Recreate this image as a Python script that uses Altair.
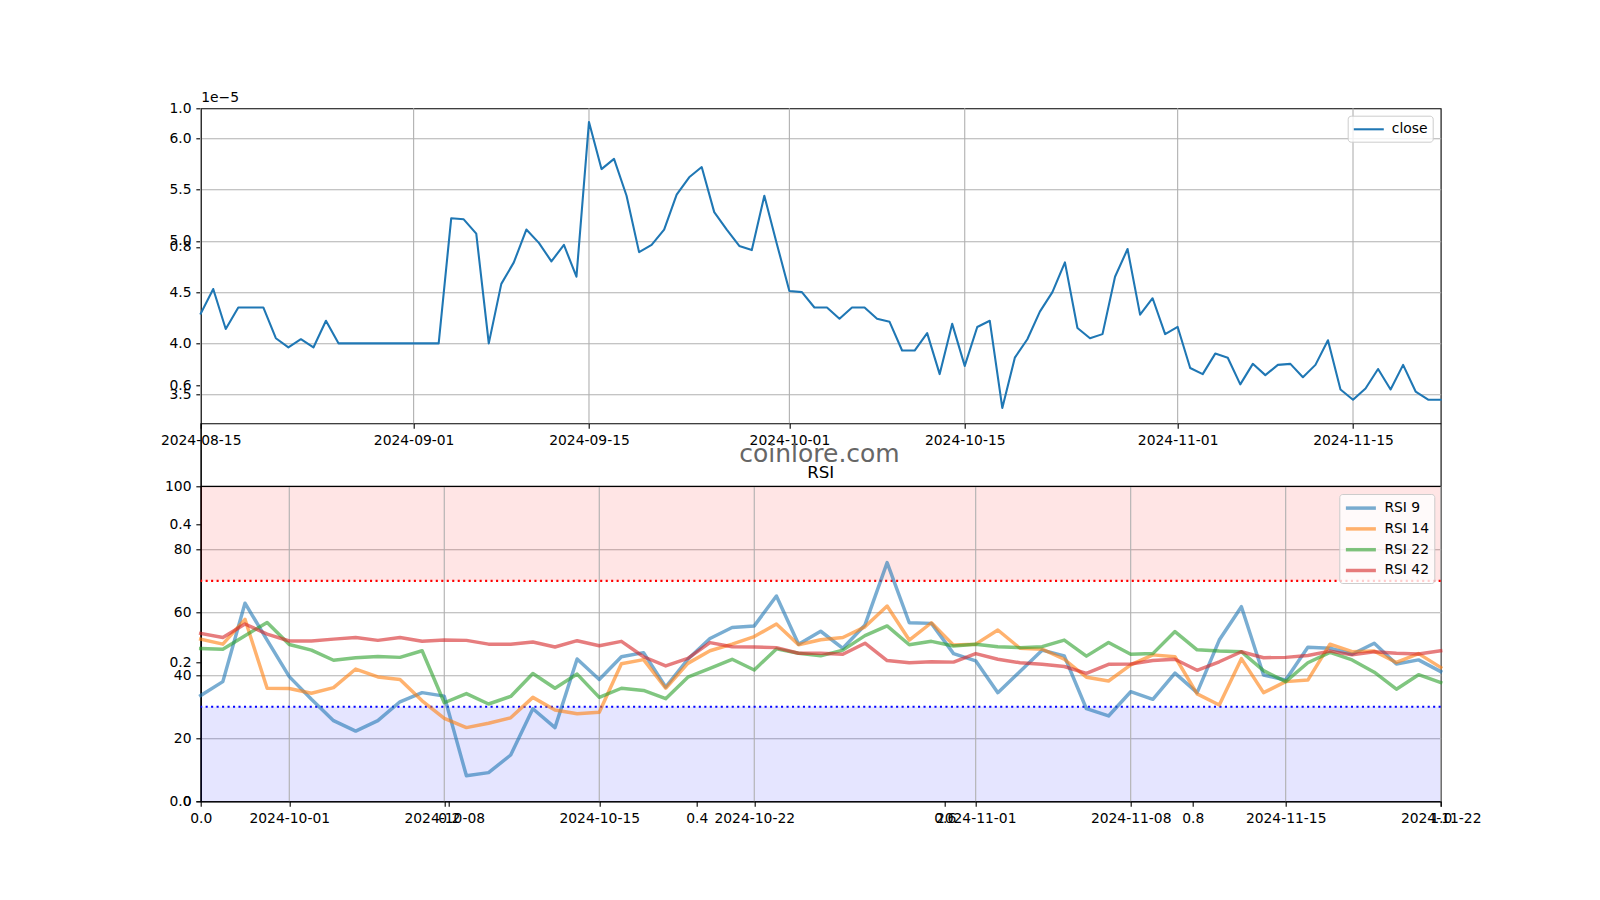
import altair as alt
import pandas as pd

# ---------------- data ----------------
close_start = "2024-08-15"
close_x1e5 = [
    4.29, 4.53, 4.14, 4.35, 4.35, 4.35, 4.05, 3.96, 4.04, 3.96,
    4.22, 4.00, 4.00, 4.00, 4.00, 4.00, 4.00, 4.00, 4.00, 4.00,
    5.22, 5.21, 5.07, 4.00, 4.58, 4.79, 5.11, 4.98, 4.80, 4.96,
    4.65, 6.16, 5.70, 5.80, 5.44, 4.89, 4.96, 5.11, 5.45, 5.62,
    5.72, 5.28, 5.11, 4.95, 4.91, 5.44, 4.97, 4.51, 4.50, 4.35,
    4.35, 4.24, 4.35, 4.35, 4.24, 4.21, 3.93, 3.93, 4.10, 3.70,
    4.19, 3.78, 4.16, 4.22, 3.37, 3.86, 4.04, 4.31, 4.50, 4.79,
    4.15, 4.05, 4.09, 4.65, 4.92, 4.28, 4.44, 4.09, 4.16, 3.76,
    3.70, 3.90, 3.86, 3.60, 3.80, 3.69, 3.79, 3.80, 3.67, 3.79,
    4.03, 3.55, 3.45, 3.56, 3.75, 3.55, 3.79, 3.53, 3.45, 3.45,
]

rsi_start = "2024-09-27"
rsi9 = [
    33.6, 38.0, 62.9, 51.2, 39.6, 32.4, 25.6, 22.3, 25.6, 31.6,
    34.5, 33.4, 8.1, 9.1, 14.7, 29.4, 23.4, 45.2, 38.7, 45.9,
    47.2, 36.3, 45.1, 51.7, 55.2, 55.7, 65.2, 49.9, 54.0, 48.6,
    56.0, 75.8, 56.7, 56.5, 46.9, 44.6, 34.5, 41.2, 48.0, 46.2,
    29.4, 27.1, 34.8, 32.4, 40.7, 34.5, 51.2, 61.8, 40.1, 38.5,
    48.9, 48.6, 46.7, 50.2, 43.6, 44.9, 41.2,
]
rsi14 = [
    51.5, 49.9, 57.8, 35.9, 35.8, 34.3, 36.1, 42.0, 39.5, 38.7,
    31.9, 26.3, 23.4, 24.8, 26.5, 33.0, 29.0, 27.8, 28.3, 43.7,
    45.0, 35.9, 43.8, 47.8, 49.9, 52.3, 56.3, 49.7, 51.3, 52.0,
    55.4, 62.0, 51.2, 56.7, 49.6, 49.9, 54.4, 48.6, 48.3, 45.1,
    39.4, 38.2, 43.3, 46.5, 45.9, 34.1, 30.6, 45.3, 34.5, 38.0,
    38.5, 49.9, 47.5, 47.7, 44.1, 46.9, 42.5,
]
rsi22 = [
    48.5, 48.3, 52.6, 56.8, 49.8, 48.0, 44.8, 45.6, 46.0, 45.7,
    47.8, 31.3, 34.2, 30.9, 33.3, 40.6, 35.9, 40.4, 33.0, 35.9,
    35.2, 32.6, 39.4, 42.2, 45.1, 41.7, 48.4, 47.0, 46.2, 48.0,
    52.6, 55.7, 49.7, 50.8, 49.3, 49.9, 49.1, 48.8, 49.1, 51.2,
    46.1, 50.4, 46.7, 46.9, 53.9, 48.1, 47.7, 47.5, 41.5, 38.0,
    44.0, 47.3, 44.9, 41.0, 35.6, 40.2, 37.7,
]
rsi42 = [
    53.3, 52.0, 56.3, 53.1, 50.9, 50.9, 51.5, 52.0, 51.1, 52.0,
    50.8, 51.2, 51.1, 49.9, 49.9, 50.6, 49.0, 51.0, 49.4, 50.8,
    45.9, 43.0, 45.4, 50.4, 49.1, 49.0, 48.8, 47.0, 47.0, 46.7,
    50.2, 44.7, 44.0, 44.3, 44.2, 46.9, 45.1, 44.0, 43.5, 42.8,
    40.6, 43.5, 43.6, 44.7, 45.1, 41.6, 44.3, 47.5, 45.6, 45.7,
    46.3, 47.7, 46.5, 47.5, 47.0, 46.8, 47.8,
]
rsi_names = ["RSI 9", "RSI 14", "RSI 22", "RSI 42"]
rsi_colors = ["#1f77b4", "#ff7f0e", "#2ca02c", "#d62728"]

top_ticks = ["2024-08-15", "2024-09-01", "2024-09-15", "2024-10-01",
             "2024-10-15", "2024-11-01", "2024-11-15"]
bottom_ticks = ["2024-10-01", "2024-10-08", "2024-10-15", "2024-10-22",
                "2024-11-01", "2024-11-08", "2024-11-15", "2024-11-22"]
close_yticks = [3.5, 4.0, 4.5, 5.0, 5.5, 6.0]
close_ydomain = [3.22, 6.293]
rsi_yticks = [0, 20, 40, 60, 80, 100]
frac_ticks = [0.0, 0.2, 0.4, 0.6, 0.8, 1.0]

top_xdomain = ("2024-08-15", "2024-11-22")
bot_xdomain = ("2024-09-27", "2024-11-22")

# ---------------- layout / style ----------------
W, H = 1240, 693
TOP_H = 315
BOT_TOP = 378.1
FONT = "DejaVu Sans"
FS = 13.9
GRID = "#b0b0b0"


def dt(s):
    y, m, d = (int(p) for p in s.split("-"))
    return alt.DateTime(year=y, month=m, date=d, utc=True)


def axis(**kw):
    base = dict(labelFont=FONT, labelFontSize=FS, labelColor="black",
                tickColor="black", tickWidth=1.1, tickSize=4.86,
                labelPadding=4.86, domainColor="black", domainWidth=1.1,
                labelFlush=False, labelOverlap=False, grid=False, title=None)
    base.update(kw)
    return alt.Axis(**base)


def legend(**kw):
    # line handle: path twice the unit width, so the row height stays small
    base = dict(orient="none", title=None, symbolType="M-2,0H2", symbolSize=225,
                symbolOffset=7.5, labelFont=FONT, labelFontSize=FS,
                labelColor="black", labelOffset=14, padding=4.6,
                fillColor="rgba(255,255,255,0.8)", strokeColor="#cccccc",
                cornerRadius=3)
    base.update(kw)
    return alt.Legend(**base)


date_label = "utcFormat(datum.value, '%Y-%m-%d')"

# ---------------- top chart (close) ----------------
top_x_scale = alt.Scale(type="utc", domain=[dt(s) for s in top_xdomain], nice=False)
top_y_scale = alt.Scale(domain=close_ydomain, range=[TOP_H, 0], nice=False, zero=False)
top_x_axis = axis(orient="bottom", offset=-(H - TOP_H),
                  values=[dt(s) for s in top_ticks], labelExpr=date_label)
top_y_axis = axis(orient="left", values=close_yticks, format=".1f",
                  grid=True, gridColor=GRID, gridWidth=1.1,
                  title="1e\u22125", titleAngle=0, titleX=0, titleY=-4,
                  titleAlign="left", titleBaseline="bottom", titleFont=FONT,
                  titleFontSize=FS, titleFontWeight="normal", titleColor="black",
                  titlePadding=0)

close_dates = pd.date_range(close_start, periods=len(close_x1e5), freq="D").strftime("%Y-%m-%d")
top_df = pd.DataFrame({"date": close_dates, "close": close_x1e5, "series": "close"})
top_tick_df = pd.DataFrame({"date": top_ticks})

top_grid = alt.Chart(top_tick_df).mark_rule(color=GRID, strokeWidth=1.1).encode(
    x=alt.X("date:T", scale=top_x_scale, axis=top_x_axis),
    y=alt.Y(datum=close_ydomain[0], type="quantitative", scale=top_y_scale, axis=top_y_axis),
    y2=alt.datum(close_ydomain[1]),
)

top_line = alt.Chart(top_df).mark_line(strokeWidth=2.08, strokeJoin="round", strokeCap="square").encode(
    x=alt.X("date:T", scale=top_x_scale, axis=top_x_axis),
    y=alt.Y("close:Q", scale=top_y_scale, axis=top_y_axis),
    color=alt.Color("series:N", scale=alt.Scale(domain=["close"], range=["#1f77b4"]),
                    legend=legend(legendX=1147, legendY=7.4, symbolStrokeWidth=2.08)),
)

top_layer = alt.layer(top_grid, top_line)

# ---------------- bottom chart (RSI) ----------------
bot_x_scale = alt.Scale(type="utc", domain=[dt(s) for s in bot_xdomain], nice=False)
bot_y_scale = alt.Scale(domain=[0, 100], range=[H, BOT_TOP], nice=False, zero=False)
bot_x_axis = axis(orient="bottom", values=[dt(s) for s in bottom_ticks], labelExpr=date_label)
bot_y_axis = axis(orient="left", values=rsi_yticks, format="d",
                  grid=True, gridColor=GRID, gridWidth=1.1)

rsi_dates = pd.date_range(rsi_start, periods=len(rsi9), freq="D").strftime("%Y-%m-%d")
one = pd.DataFrame({"a": [0]})
bot_tick_df = pd.DataFrame({"date": bottom_ticks})


def ydatum(v):
    return alt.Y(datum=v, type="quantitative", scale=bot_y_scale, axis=bot_y_axis)


band_hi = alt.Chart(one).mark_rect(color="red", opacity=0.1).encode(
    y=ydatum(70), y2=alt.datum(100))
band_lo = alt.Chart(one).mark_rect(color="blue", opacity=0.1).encode(
    y=ydatum(0), y2=alt.datum(30))
bot_grid = alt.Chart(bot_tick_df).mark_rule(color=GRID, strokeWidth=1.1).encode(
    x=alt.X("date:T", scale=bot_x_scale, axis=bot_x_axis),
    y=ydatum(0), y2=alt.datum(100))
hi_line = alt.Chart(one).mark_rule(color="red", strokeWidth=2.08, strokeDash=[2.08, 3.4]).encode(
    y=ydatum(70))
lo_line = alt.Chart(one).mark_rule(color="blue", strokeWidth=2.08, strokeDash=[2.08, 3.4]).encode(
    y=ydatum(30))
top_spine = alt.Chart(one).mark_rule(color="black", strokeWidth=1.1).encode(
    y=ydatum(100))

rsi_color = alt.Color("series:N", scale=alt.Scale(domain=rsi_names, range=rsi_colors),
                      legend=legend(legendX=1138.6, legendY=385.7, symbolStrokeWidth=3.47,
                                    symbolOpacity=0.6, rowPadding=3.8))

rsi_layers = []
for name, vals in zip(rsi_names, [rsi9, rsi14, rsi22, rsi42]):
    df = pd.DataFrame({"date": rsi_dates, "value": vals, "series": name})
    rsi_layers.append(
        alt.Chart(df).mark_line(strokeWidth=3.47, opacity=0.6, strokeJoin="round", strokeCap="square").encode(
            x=alt.X("date:T", scale=bot_x_scale, axis=bot_x_axis),
            y=alt.Y("value:Q", scale=bot_y_scale, axis=bot_y_axis),
            color=rsi_color,
        )
    )

bot_layer = alt.layer(band_hi, band_lo, bot_grid, hi_line, lo_line, top_spine, *rsi_layers)

# ---------------- overlay 0..1 axes ----------------
frac_df = pd.DataFrame({"v": [0.0, 1.0]})
overlay = alt.Chart(frac_df).mark_point(opacity=0).encode(
    x=alt.X("v:Q", scale=alt.Scale(domain=[0, 1], nice=False, zero=False),
            axis=axis(orient="bottom", values=frac_ticks, format=".1f")),
    y=alt.Y("v:Q", scale=alt.Scale(domain=[0, 1], nice=False, zero=False),
            axis=axis(orient="left", values=frac_ticks, format=".1f")),
)

# ---------------- texts ----------------
watermark = alt.Chart(one).mark_text(text="coinlore.com", font=FONT, fontSize=25,
                                     color="#666666", align="center",
                                     baseline="alphabetic").encode(
    x=alt.value(618.8), y=alt.value(353.7))
rsi_title = alt.Chart(one).mark_text(text="RSI", font=FONT, fontSize=16.7,
                                     color="black", align="center",
                                     baseline="alphabetic").encode(
    x=alt.value(620), y=alt.value(369.7))

chart = (
    alt.layer(overlay, top_layer, bot_layer, watermark, rsi_title)
    .resolve_scale(x="independent", y="independent", color="independent")
    .resolve_axis(x="independent", y="independent")
    .resolve_legend(color="independent")
    .properties(width=W, height=H, background="white",
                autosize=alt.AutoSizeParams(type="none"),
                padding={"left": 192.7, "top": 100.3, "right": 140, "bottom": 80})
    .configure_view(stroke="black", strokeWidth=1.1)
)

chart.save("out.html", embed_options={"renderer": "svg", "actions": False})
